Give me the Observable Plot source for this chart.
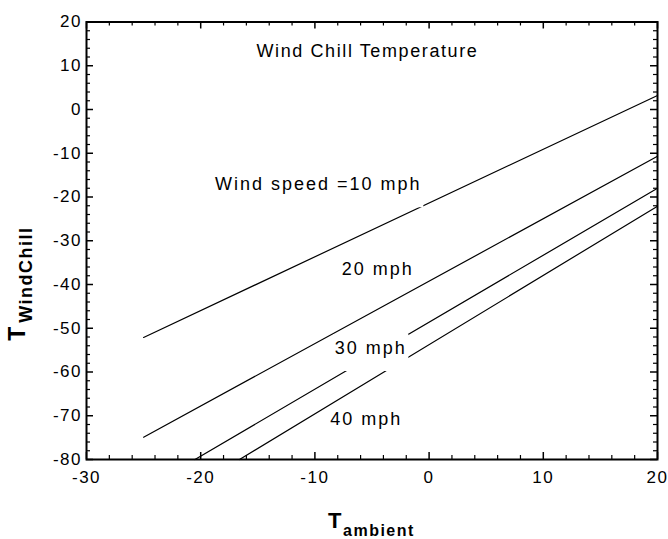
<!DOCTYPE html>
<html>
<head>
<meta charset="utf-8">
<script src="https://cdn.jsdelivr.net/npm/d3@7"></script>
<script src="https://cdn.jsdelivr.net/npm/@observablehq/plot@0.6"></script>
<style>
  html, body { margin: 0; padding: 0; background: #fff; }
  #chart { width: 668px; height: 539px; }
</style>
</head>
<body>
<div id="chart"></div>
<script>
// ---- data ----
const windSpeeds = [10, 20, 30, 40];             // mph
const tAmbientStart = [-25, -25, -20.5, -16.6];  // where each line begins
const tWindChillStart = [-52.1, -74.9, -80, -80];
const tAmbientEnd = [20, 20, 20, 20];
const tWindChillEnd = [3.2, -10.7, -18.0, -22.1];

const xTicks = [-30, -20, -10, 0, 10, 20];
const xTickLabels = ["-30", "-20", "-10", "0", "10", "20"];
const yTicks = [-80, -70, -60, -50, -40, -30, -20, -10, 0, 10, 20];
const yTickLabels = ["-80", "-70", "-60", "-50", "-40", "-30", "-20", "-10", "0", "10", "20"];
const xMinorTicks = [-28, -26, -24, -22, -18, -16, -14, -12, -8, -6, -4, -2, 2, 4, 6, 8, 12, 14, 16, 18];
const yMinorTicks = [-78, -76, -74, -72, -68, -66, -64, -62, -58, -56, -54, -52, -48, -46, -44, -42,
  -38, -36, -34, -32, -28, -26, -24, -22, -18, -16, -14, -12, -8, -6, -4, -2, 2, 4, 6, 8, 12, 14, 16, 18];

const titleText = "Wind Chill Temperature";
const titleX = -5.4, titleY = 13.3;
const labelTexts = ["Wind speed =10 mph", "20 mph", "30 mph", "40 mph"];
const labelX = [-9.7, -4.5, -5.1, -5.5];
const labelY = [-17.1, -36.6, -54.5, -70.9];

const xLabelMain = "T", xLabelSub = "ambient";
const yLabelMain = "T", yLabelSub = "WindChill";

// ---- tables built from the arrays ----
const lineData = windSpeeds.flatMap((s, i) => [
  {speed: s, t: tAmbientStart[i], wc: tWindChillStart[i]},
  {speed: s, t: tAmbientEnd[i], wc: tWindChillEnd[i]}
]);
const labels = labelTexts.map((text, i) => ({text, x: labelX[i], y: labelY[i]}));
const boxed10 = labels.filter(d => d.text === "Wind speed =10 mph");
const boxed30 = labels.filter(d => d.text === "30 mph");

const W = 668, H = 539;
const mL = 86, mR = 11, mT = 21.5, mB = 80;
const plotH = H - mT - mB, plotW = W - mL - mR;
const FONT = "'Liberation Sans', Arial, Helvetica, sans-serif";

const rectSymbol = (w, h) => ({
  draw(ctx) {
    ctx.moveTo(-w / 2, -h / 2); ctx.lineTo(w / 2, -h / 2);
    ctx.lineTo(w / 2, h / 2); ctx.lineTo(-w / 2, h / 2); ctx.closePath();
  }
});

const majorLen = 7, minorLen = 4;

const chart = Plot.plot({
  width: W, height: H,
  marginLeft: mL, marginRight: mR, marginTop: mT, marginBottom: mB,
  style: {fontFamily: FONT, background: "#fff", color: "#000", letterSpacing: "1.5px", overflow: "visible"},
  x: {domain: [-30, 20], axis: null},
  y: {domain: [-80, 20], axis: null},
  marks: [
    Plot.line(lineData, {x: "t", y: "wc", z: "speed", stroke: "#000", strokeWidth: 1.2}),
    // white label backgrounds that interrupt lines
    Plot.dot(boxed10, {x: "x", y: "y", dy: 4.5, symbol: rectSymbol(210, 37), fill: "#fff"}),
    Plot.dot(boxed30, {x: "x", y: "y", dy: 4.5, symbol: rectSymbol(75, 37), fill: "#fff"}),
    Plot.text([titleText], {x: () => titleX, y: () => titleY, text: d => d, fontSize: 18, fill: "#000", textAnchor: "middle", lineAnchor: "middle"}),
    Plot.text(labels, {x: "x", y: "y", text: "text", fontSize: 18, fill: "#000", textAnchor: "middle", lineAnchor: "middle"}),
    // inward ticks on all four sides
    Plot.ruleX(xTicks, {insetTop: plotH - majorLen, stroke: "#000", strokeWidth: 1.5}),
    Plot.ruleX(xMinorTicks, {insetTop: plotH - minorLen, stroke: "#000", strokeWidth: 1.2}),
    Plot.ruleX(xTicks, {insetBottom: plotH - majorLen, stroke: "#000", strokeWidth: 1.5}),
    Plot.ruleX(xMinorTicks, {insetBottom: plotH - minorLen, stroke: "#000", strokeWidth: 1.2}),
    Plot.ruleY(yTicks, {insetRight: plotW - majorLen, stroke: "#000", strokeWidth: 1.5}),
    Plot.ruleY(yMinorTicks, {insetRight: plotW - minorLen, stroke: "#000", strokeWidth: 1.2}),
    Plot.ruleY(yTicks, {insetLeft: plotW - majorLen, stroke: "#000", strokeWidth: 1.5}),
    Plot.ruleY(yMinorTicks, {insetLeft: plotW - minorLen, stroke: "#000", strokeWidth: 1.2}),
    Plot.frame({stroke: "#000", strokeWidth: 2}),
    Plot.axisX({ticks: xTicks, tickSize: 0, tickPadding: 11, fontSize: 17, tickFormat: (d) => xTickLabels[xTicks.indexOf(d)], label: null}),
    Plot.axisY({ticks: yTicks, tickSize: 0, tickPadding: 4.5, fontSize: 17, tickFormat: (d) => yTickLabels[yTicks.indexOf(d)], label: null}),
    // axis titles with subscripts
    Plot.text([xLabelMain], {frameAnchor: "bottom", text: d => d, textAnchor: "start", lineAnchor: "middle", dx: -44, dy: 61, fontSize: 22, fontWeight: "bold"}),
    Plot.text([xLabelSub], {frameAnchor: "bottom", text: d => d, textAnchor: "start", lineAnchor: "middle", dx: -29, dy: 71, fontSize: 16, fontWeight: "bold"}),
    Plot.text([yLabelMain], {frameAnchor: "left", text: d => d, textAnchor: "start", lineAnchor: "middle", rotate: -90, dx: -68.4, dy: 100, fontSize: 23, fontWeight: "bold"}),
    Plot.text([yLabelSub], {frameAnchor: "left", text: d => d, textAnchor: "start", lineAnchor: "middle", rotate: -90, dx: -60, dy: 82, fontSize: 18, fontWeight: "bold"})
  ]
});
// per-text letter spacing to match the reference's wide type
d3.select(chart).selectAll("text").each(function () {
  const t = this.textContent;
  if (t === titleText) this.style.letterSpacing = "1.6px";
  else if (labelTexts.includes(t)) this.style.letterSpacing = "2px";
});
document.getElementById("chart").appendChild(chart);
</script>
</body>
</html>
